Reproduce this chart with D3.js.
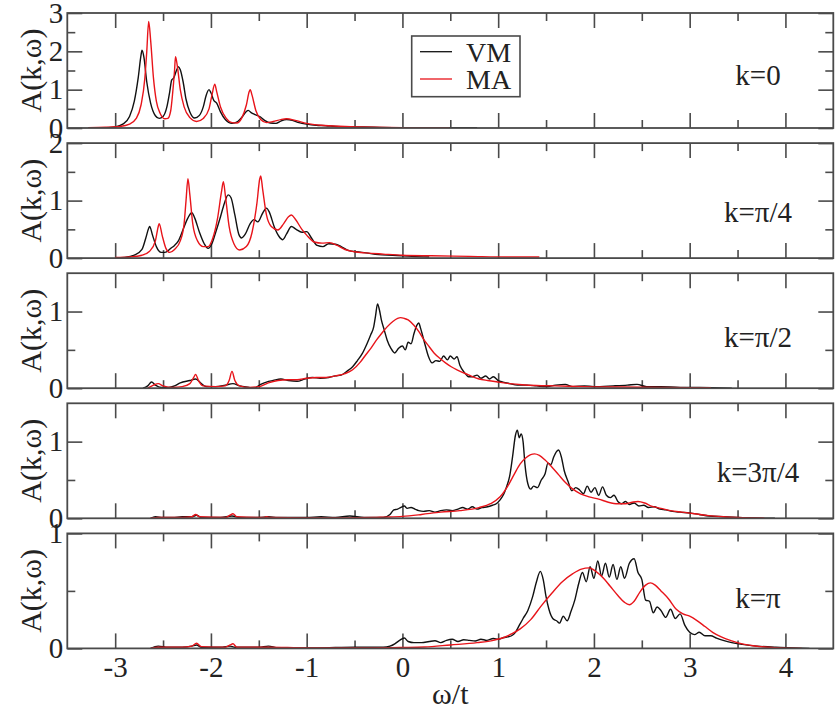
<!DOCTYPE html>
<html>
<head>
<meta charset="utf-8">
<script src="https://cdn.jsdelivr.net/npm/d3@7"></script>
<style>
  html, body { margin: 0; padding: 0; background: #fff; }
  svg { display: block; }
</style>
</head>
<body>
<svg id="chart" width="837" height="712"></svg>
<script>
// Spectral function A(k, ω) for five momenta: VM (black) vs MA (red)
const panelLabels = ["k=0", "k=\u03C0/4", "k=\u03C0/2", "k=3\u03C0/4", "k=\u03C0"];
const yMaxes = [3, 2, 1.5, 1.5, 1];
const yTickLabels = [[0, 1, 2, 3], [0, 1, 2], [0, 1], [0, 1], [0, 1]];
const xTickLabels = [-3, -2, -1, 0, 1, 2, 3, 4];
const seriesNames = ["VM", "MA"];

// k = 0
const vmK0 = [[-3.28,0],[-3.1,0.01],[-3.0,0.03],[-2.92,0.1],[-2.85,0.3],[-2.8,0.7],[-2.76,1.3],[-2.73,1.9],[-2.72,2.03],[-2.70,1.85],[-2.67,1.2],[-2.63,0.65],[-2.58,0.32],[-2.54,0.25],[-2.50,0.3],[-2.46,0.55],[-2.43,0.95],[-2.41,1.25],[-2.39,1.3],[-2.36,1.5],[-2.34,1.6],[-2.32,1.52],[-2.29,1.2],[-2.26,0.75],[-2.22,0.42],[-2.17,0.26],[-2.12,0.33],[-2.08,0.55],[-2.05,0.85],[-2.02,1.0],[-2.0,0.92],[-1.97,0.72],[-1.94,0.65],[-1.9,0.42],[-1.85,0.22],[-1.78,0.12],[-1.72,0.17],[-1.67,0.3],[-1.63,0.43],[-1.61,0.46],[-1.58,0.4],[-1.54,0.35],[-1.49,0.3],[-1.44,0.2],[-1.38,0.13],[-1.32,0.12],[-1.27,0.18],[-1.21,0.22],[-1.15,0.2],[-1.08,0.14],[-1.0,0.1],[-0.9,0.07],[-0.8,0.06],[-0.7,0.04],[-0.5,0.03],[-0.3,0.02],[0,0.01],[0.4,0.01],[0.78,0.005]];
const maK0 = [[-3.28,0.01],[-3.1,0.02],[-2.95,0.04],[-2.85,0.1],[-2.78,0.25],[-2.73,0.6],[-2.69,1.3],[-2.67,2.0],[-2.65,2.78],[-2.63,2.3],[-2.60,1.3],[-2.57,0.7],[-2.53,0.38],[-2.48,0.24],[-2.45,0.25],[-2.42,0.45],[-2.40,0.9],[-2.38,1.5],[-2.37,1.86],[-2.35,1.6],[-2.32,1.0],[-2.28,0.55],[-2.22,0.27],[-2.15,0.17],[-2.08,0.25],[-2.02,0.5],[-1.99,0.85],[-1.96,1.14],[-1.94,0.95],[-1.90,0.55],[-1.84,0.25],[-1.78,0.14],[-1.73,0.13],[-1.68,0.25],[-1.63,0.6],[-1.60,0.95],[-1.59,1.0],[-1.57,0.85],[-1.53,0.45],[-1.48,0.22],[-1.42,0.14],[-1.35,0.17],[-1.27,0.22],[-1.21,0.24],[-1.12,0.2],[-1.0,0.12],[-0.85,0.07],[-0.6,0.04],[-0.3,0.02],[0.0,0.01],[0.49,0.005]];

// k = π/4
const vmK1 = [[-3.0,0.0],[-2.9,0.01],[-2.8,0.05],[-2.72,0.15],[-2.68,0.35],[-2.65,0.52],[-2.64,0.55],[-2.61,0.4],[-2.57,0.2],[-2.52,0.1],[-2.48,0.1],[-2.42,0.17],[-2.38,0.22],[-2.34,0.3],[-2.29,0.5],[-2.24,0.7],[-2.20,0.79],[-2.17,0.7],[-2.12,0.45],[-2.07,0.25],[-2.03,0.17],[-1.99,0.25],[-1.95,0.45],[-1.90,0.72],[-1.86,0.95],[-1.82,1.10],[-1.79,1.05],[-1.75,0.75],[-1.71,0.42],[-1.68,0.35],[-1.64,0.42],[-1.59,0.6],[-1.55,0.67],[-1.51,0.63],[-1.46,0.78],[-1.42,0.87],[-1.39,0.8],[-1.34,0.55],[-1.29,0.38],[-1.25,0.32],[-1.21,0.42],[-1.16,0.55],[-1.11,0.5],[-1.05,0.45],[-1.0,0.46],[-0.95,0.35],[-0.89,0.22],[-0.83,0.2],[-0.77,0.25],[-0.7,0.24],[-0.64,0.2],[-0.56,0.13],[-0.48,0.11],[-0.38,0.09],[-0.25,0.06],[-0.1,0.05],[0.1,0.03],[0.28,0.02]];
const maK1 = [[-3.0,0.01],[-2.85,0.02],[-2.72,0.05],[-2.64,0.12],[-2.58,0.3],[-2.55,0.55],[-2.54,0.60],[-2.51,0.4],[-2.47,0.17],[-2.43,0.1],[-2.38,0.15],[-2.32,0.3],[-2.28,0.6],[-2.26,1.0],[-2.24,1.38],[-2.22,1.1],[-2.19,0.6],[-2.14,0.3],[-2.08,0.2],[-2.03,0.2],[-1.98,0.35],[-1.93,0.7],[-1.89,1.15],[-1.87,1.33],[-1.85,1.1],[-1.81,0.55],[-1.76,0.25],[-1.70,0.14],[-1.63,0.2],[-1.57,0.45],[-1.52,0.95],[-1.49,1.38],[-1.48,1.43],[-1.46,1.2],[-1.42,0.75],[-1.37,0.55],[-1.30,0.49],[-1.24,0.6],[-1.19,0.72],[-1.16,0.75],[-1.12,0.68],[-1.05,0.5],[-1.0,0.4],[-0.92,0.28],[-0.84,0.26],[-0.76,0.27],[-0.68,0.22],[-0.6,0.15],[-0.5,0.11],[-0.38,0.09],[-0.2,0.07],[0.0,0.05],[0.3,0.04],[0.7,0.03],[1.1,0.02],[1.43,0.02]];

// k = π/2
const vmK2 = [[-2.71,0],[-2.66,0.03],[-2.62,0.08],[-2.58,0.04],[-2.52,0.01],[-2.44,0.01],[-2.38,0.03],[-2.32,0.07],[-2.22,0.1],[-2.16,0.12],[-2.10,0.06],[-2.05,0.02],[-1.95,0.02],[-1.85,0.04],[-1.77,0.06],[-1.70,0.03],[-1.6,0.01],[-1.55,0.0],[-1.48,0.05],[-1.42,0.08],[-1.35,0.1],[-1.27,0.12],[-1.19,0.1],[-1.1,0.09],[-1.02,0.12],[-0.94,0.14],[-0.86,0.13],[-0.77,0.14],[-0.7,0.16],[-0.64,0.17],[-0.58,0.22],[-0.52,0.28],[-0.47,0.36],[-0.42,0.45],[-0.37,0.58],[-0.33,0.7],[-0.30,0.8],[-0.28,0.95],[-0.26,1.1],[-0.24,1.02],[-0.22,0.89],[-0.19,0.76],[-0.16,0.63],[-0.12,0.52],[-0.08,0.46],[-0.04,0.52],[0.0,0.55],[0.03,0.5],[0.06,0.6],[0.09,0.58],[0.12,0.71],[0.15,0.82],[0.17,0.85],[0.19,0.78],[0.21,0.69],[0.24,0.55],[0.27,0.42],[0.31,0.33],[0.35,0.36],[0.39,0.35],[0.43,0.42],[0.47,0.37],[0.50,0.42],[0.54,0.38],[0.57,0.41],[0.60,0.3],[0.65,0.2],[0.69,0.15],[0.73,0.15],[0.78,0.17],[0.82,0.13],[0.87,0.16],[0.91,0.12],[0.95,0.15],[1.0,0.1],[1.05,0.08],[1.12,0.06],[1.2,0.04],[1.3,0.04],[1.4,0.03],[1.5,0.02],[1.6,0.04],[1.7,0.05],[1.78,0.02],[1.9,0.03],[2.0,0.02],[2.2,0.03],[2.35,0.04],[2.45,0.05],[2.55,0.02],[2.7,0.02],[2.9,0.01],[3.1,0.01],[3.44,0]];
const maK2 = [[-2.66,0],[-2.6,0.04],[-2.55,0.06],[-2.5,0.03],[-2.4,0.01],[-2.3,0.02],[-2.22,0.06],[-2.18,0.14],[-2.16,0.18],[-2.13,0.1],[-2.08,0.03],[-1.95,0.02],[-1.85,0.03],[-1.81,0.1],[-1.78,0.22],[-1.75,0.1],[-1.70,0.03],[-1.6,0.01],[-1.5,0.02],[-1.4,0.07],[-1.3,0.1],[-1.2,0.11],[-1.1,0.11],[-1.0,0.13],[-0.9,0.14],[-0.8,0.14],[-0.7,0.16],[-0.6,0.19],[-0.52,0.24],[-0.44,0.34],[-0.38,0.44],[-0.33,0.52],[-0.27,0.63],[-0.22,0.71],[-0.16,0.8],[-0.1,0.87],[-0.05,0.91],[-0.02,0.92],[0.02,0.91],[0.06,0.89],[0.12,0.82],[0.17,0.74],[0.22,0.64],[0.28,0.54],[0.33,0.46],[0.39,0.39],[0.45,0.33],[0.51,0.28],[0.57,0.24],[0.62,0.21],[0.68,0.18],[0.73,0.15],[0.8,0.12],[0.89,0.1],[1.0,0.08],[1.12,0.06],[1.25,0.045],[1.4,0.035],[1.6,0.03],[1.9,0.02],[2.3,0.015],[2.7,0.01],[3.22,0.005]];

// k = 3π/4
const vmK3 = [[-2.63,0],[-2.58,0.02],[-2.5,0.01],[-2.4,0.01],[-2.3,0.02],[-2.2,0.02],[-2.15,0.04],[-2.1,0.01],[-1.9,0.01],[-1.78,0.03],[-1.7,0.01],[-1.5,0.01],[-1.4,0.02],[-1.3,0.01],[-1.0,0.01],[-0.85,0.02],[-0.7,0.01],[-0.55,0.03],[-0.4,0.01],[-0.2,0.01],[-0.13,0.05],[-0.09,0.11],[-0.05,0.12],[-0.02,0.14],[0.02,0.16],[0.05,0.13],[0.09,0.14],[0.13,0.12],[0.17,0.1],[0.22,0.09],[0.28,0.1],[0.34,0.08],[0.4,0.1],[0.46,0.11],[0.52,0.1],[0.58,0.12],[0.63,0.14],[0.68,0.12],[0.73,0.15],[0.78,0.12],[0.83,0.14],[0.89,0.15],[0.94,0.17],[0.98,0.19],[1.02,0.24],[1.06,0.32],[1.09,0.42],[1.12,0.55],[1.15,0.8],[1.18,1.08],[1.20,1.15],[1.22,1.05],[1.24,1.1],[1.26,1.0],[1.28,0.7],[1.31,0.45],[1.34,0.38],[1.37,0.42],[1.41,0.4],[1.45,0.5],[1.49,0.58],[1.52,0.72],[1.55,0.7],[1.58,0.8],[1.63,0.89],[1.66,0.8],[1.69,0.62],[1.73,0.48],[1.77,0.36],[1.81,0.4],[1.85,0.37],[1.89,0.32],[1.93,0.42],[1.97,0.34],[2.01,0.4],[2.05,0.3],[2.09,0.41],[2.13,0.3],[2.17,0.27],[2.21,0.3],[2.25,0.22],[2.29,0.19],[2.33,0.22],[2.37,0.18],[2.42,0.2],[2.47,0.16],[2.52,0.17],[2.57,0.14],[2.63,0.15],[2.69,0.12],[2.75,0.11],[2.82,0.09],[2.9,0.08],[3.0,0.07],[3.1,0.05],[3.2,0.03],[3.35,0.02],[3.5,0.01],[3.89,0]];
const maK3 = [[-2.63,0],[-2.55,0.01],[-2.3,0.01],[-2.2,0.02],[-2.16,0.05],[-2.12,0.02],[-1.85,0.01],[-1.8,0.04],[-1.77,0.06],[-1.73,0.02],[-1.45,0.01],[-1.42,0.02],[-1.38,0.01],[-1.0,0.005],[-0.6,0.005],[-0.3,0.01],[-0.2,0.015],[0.0,0.025],[0.2,0.05],[0.4,0.08],[0.6,0.1],[0.8,0.14],[0.92,0.19],[1.02,0.28],[1.1,0.42],[1.17,0.58],[1.23,0.71],[1.29,0.79],[1.34,0.83],[1.38,0.84],[1.43,0.82],[1.49,0.76],[1.56,0.67],[1.63,0.57],[1.7,0.47],[1.78,0.38],[1.86,0.32],[1.95,0.28],[2.05,0.25],[2.15,0.21],[2.25,0.19],[2.33,0.19],[2.4,0.21],[2.46,0.22],[2.53,0.2],[2.6,0.16],[2.7,0.13],[2.8,0.1],[2.92,0.08],[3.05,0.06],[3.2,0.035],[3.35,0.02],[3.5,0.01],[3.78,0]];

// k = π
const vmK4 = [[-2.63,0],[-2.55,0.02],[-2.45,0.01],[-2.3,0.01],[-2.2,0.02],[-2.15,0.03],[-2.1,0.01],[-1.9,0.01],[-1.8,0.02],[-1.75,0.01],[-1.5,0.01],[-1.4,0.02],[-1.3,0.005],[-0.9,0.005],[-0.5,0.01],[-0.2,0.01],[-0.13,0.02],[-0.08,0.04],[-0.03,0.07],[0.02,0.09],[0.06,0.06],[0.12,0.05],[0.2,0.05],[0.28,0.06],[0.34,0.066],[0.4,0.05],[0.46,0.07],[0.52,0.08],[0.58,0.06],[0.64,0.075],[0.7,0.07],[0.76,0.065],[0.82,0.08],[0.88,0.07],[0.95,0.086],[1.0,0.08],[1.06,0.095],[1.1,0.1],[1.14,0.11],[1.18,0.14],[1.22,0.2],[1.26,0.26],[1.31,0.33],[1.36,0.45],[1.40,0.58],[1.44,0.67],[1.47,0.6],[1.50,0.45],[1.53,0.34],[1.57,0.26],[1.61,0.24],[1.64,0.22],[1.68,0.28],[1.72,0.24],[1.76,0.32],[1.80,0.42],[1.84,0.56],[1.88,0.66],[1.92,0.58],[1.96,0.71],[2.0,0.61],[2.04,0.76],[2.08,0.63],[2.12,0.74],[2.16,0.62],[2.20,0.73],[2.24,0.6],[2.28,0.71],[2.32,0.61],[2.37,0.74],[2.42,0.78],[2.46,0.66],[2.50,0.6],[2.54,0.42],[2.58,0.41],[2.62,0.31],[2.66,0.36],[2.70,0.33],[2.75,0.27],[2.80,0.34],[2.85,0.26],[2.90,0.3],[2.95,0.2],[3.0,0.14],[3.05,0.12],[3.1,0.14],[3.16,0.11],[3.22,0.11],[3.28,0.09],[3.35,0.07],[3.44,0.05],[3.55,0.035],[3.7,0.02],[3.9,0.01],[4.1,0.005],[4.25,0]];
const maK4 = [[-2.63,0],[-2.55,0.01],[-2.3,0.01],[-2.2,0.02],[-2.15,0.045],[-2.1,0.015],[-1.85,0.01],[-1.8,0.03],[-1.77,0.04],[-1.73,0.01],[-1.4,0.01],[-1.0,0.005],[-0.5,0.005],[-0.3,0.005],[0.0,0.008],[0.23,0.012],[0.5,0.03],[0.78,0.05],[0.95,0.07],[1.06,0.095],[1.15,0.13],[1.23,0.17],[1.34,0.25],[1.45,0.37],[1.56,0.48],[1.67,0.58],[1.78,0.65],[1.87,0.69],[1.95,0.7],[2.02,0.67],[2.1,0.61],[2.17,0.54],[2.25,0.46],[2.32,0.4],[2.37,0.38],[2.42,0.41],[2.48,0.49],[2.54,0.55],[2.59,0.57],[2.64,0.55],[2.70,0.5],[2.78,0.43],[2.86,0.34],[2.93,0.3],[3.0,0.28],[3.08,0.24],[3.16,0.19],[3.24,0.14],[3.33,0.1],[3.44,0.066],[3.56,0.037],[3.72,0.017],[3.89,0.006],[4.17,0]];

const vmSeries = [vmK0, vmK1, vmK2, vmK3, vmK4];
const maSeries = [maK0, maK1, maK2, maK3, maK4];

// ---- layout ----
const FONT = "'Liberation Serif', 'DejaVu Serif', 'Noto Serif', 'Times New Roman', Times, serif";
const svg = d3.select("#chart");
const left = 67.3, right = 833.3;
const panelTop0 = 13, panelStep = 130.1, panelH = 115;
const labelBaselines = [85, 222, 347, 482, 608];
const frameColor = "#4a4a4a";
const textColor = "#222";
const colors = { VM: "#111", MA: "#e8141a" };

const x = d3.scaleLinear().domain([-3.5, 4.5]).range([left, right]);
const xMajor = d3.range(-3, 4.01, 1);
const xMinor = d3.range(-2.5, 4.0, 1);

const styleText = sel => sel.style("font-family", FONT).style("fill", textColor);

svg.append("defs").selectAll("clipPath")
  .data(yMaxes).join("clipPath")
  .attr("id", (d, i) => "clip" + i)
  .append("rect")
  .attr("x", left).attr("width", right - left)
  .attr("y", (d, i) => panelTop0 + i * panelStep - 1)
  .attr("height", panelH + 1);

yMaxes.forEach((yMax, i) => {
  const top = panelTop0 + i * panelStep;
  const bottom = top + panelH;
  const y = d3.scaleLinear().domain([0, yMax]).range([bottom, top]);
  const g = svg.append("g");
  const yMinor = d3.range(0.5, yMax, 1);
  const isLast = i === yMaxes.length - 1;

  // inward ticks on all four sides
  const tickStyle = sel => {
    sel.select(".domain").remove();
    sel.selectAll(".tick line").attr("stroke", frameColor).attr("stroke-width", 1.6);
  };
  const blank = () => "";

  const bottomAxis = g.append("g").attr("transform", `translate(0,${bottom})`)
    .call(d3.axisBottom(x).tickValues(isLast ? xTickLabels : xMajor).tickSize(-15).tickPadding(8)
      .tickFormat(isLast ? (d => d < 0 ? "-" + Math.abs(d) : String(d)) : blank))
    .call(tickStyle);
  bottomAxis.selectAll("text").attr("font-size", 29).call(styleText);

  g.append("g").attr("transform", `translate(0,${bottom})`)
    .call(d3.axisBottom(x).tickValues(xMinor).tickSize(-8).tickFormat(blank)).call(tickStyle);
  g.append("g").attr("transform", `translate(0,${top})`)
    .call(d3.axisTop(x).tickValues(xMajor).tickSize(-15).tickFormat(blank)).call(tickStyle);
  g.append("g").attr("transform", `translate(0,${top})`)
    .call(d3.axisTop(x).tickValues(xMinor).tickSize(-8).tickFormat(blank)).call(tickStyle);

  g.append("g").attr("transform", `translate(${left},0)`)
    .call(d3.axisLeft(y).tickValues(yTickLabels[i]).tickSize(-15).tickPadding(4).tickFormat(d3.format("d")))
    .call(tickStyle)
    .call(s => s.selectAll("text").attr("font-size", 29).call(styleText));
  g.append("g").attr("transform", `translate(${left},0)`)
    .call(d3.axisLeft(y).tickValues(yMinor).tickSize(-8).tickFormat(blank)).call(tickStyle);
  g.append("g").attr("transform", `translate(${right},0)`)
    .call(d3.axisRight(y).tickValues(yTickLabels[i]).tickSize(-15).tickFormat(blank)).call(tickStyle);
  g.append("g").attr("transform", `translate(${right},0)`)
    .call(d3.axisRight(y).tickValues(yMinor).tickSize(-8).tickFormat(blank)).call(tickStyle);

  // curves
  const line = d3.line().x(d => x(d[0])).y(d => y(d[1])).curve(d3.curveMonotoneX);
  const plot = g.append("g").attr("clip-path", `url(#clip${i})`);
  plot.append("path").datum(vmSeries[i])
    .attr("fill", "none").attr("stroke", colors.VM).attr("stroke-width", 1.4)
    .attr("stroke-linejoin", "round").attr("d", line);
  plot.append("path").datum(maSeries[i])
    .attr("fill", "none").attr("stroke", colors.MA).attr("stroke-width", 1.4)
    .attr("stroke-linejoin", "round").attr("d", line);

  // frame
  g.append("rect").attr("x", left).attr("y", top)
    .attr("width", right - left).attr("height", panelH)
    .attr("fill", "none").attr("stroke", frameColor).attr("stroke-width", 1.8);

  // y-axis title
  g.append("text")
    .attr("transform", `translate(41,${(top + bottom) / 2}) rotate(-90)`)
    .attr("text-anchor", "middle").attr("font-size", 30)
    .call(styleText)
    .text("A(k,\u03C9)");

  // momentum label
  g.append("text").attr("x", 758).attr("y", labelBaselines[i])
    .attr("text-anchor", "middle").attr("font-size", 29)
    .call(styleText)
    .text(panelLabels[i]);
});

// x-axis title
svg.append("text").attr("x", (left + right) / 2).attr("y", 704)
  .attr("text-anchor", "middle").attr("font-size", 30)
  .call(styleText).text("\u03C9/t");

// legend
const legend = svg.append("g");
legend.append("rect").attr("x", 411.7).attr("y", 36).attr("width", 108.3).attr("height", 60.7)
  .attr("fill", "#fff").attr("stroke", frameColor).attr("stroke-width", 1.6);
seriesNames.forEach((name, j) => {
  const cy = 51.7 + j * 27.3;
  legend.append("line").attr("x1", 420).attr("x2", 452).attr("y1", cy).attr("y2", cy)
    .attr("stroke", colors[name]).attr("stroke-width", 1.3);
  legend.append("text").attr("x", 466).attr("y", cy + 10).attr("font-size", 28)
    .call(styleText).text(name);
});
</script>
</body>
</html>
